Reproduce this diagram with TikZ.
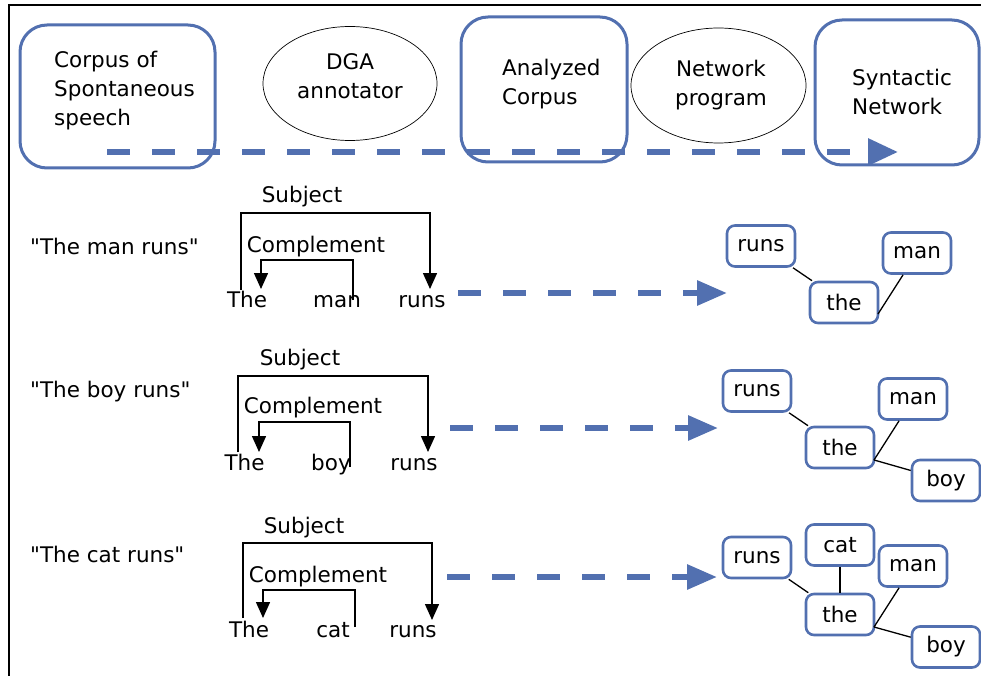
\documentclass[tikz,border=0pt]{standalone}
\usepackage{fontspec}
\setmainfont{DejaVu Sans}
\newfontfamily\dvs{DejaVu Sans}
\usetikzlibrary{arrows.meta,shapes.geometric}
\definecolor{mblue}{RGB}{82,112,176}
\begin{document}
\begin{tikzpicture}[x=1pt,y=-1pt,
  txt/.style={inner sep=0pt, font=\dvs\fontsize{21.5}{29}\selectfont},
  bigbox/.style={draw=mblue, line width=3pt, rounded corners=27pt, inner sep=0pt, fill=white},
  oval/.style={draw=black, line width=0.7pt, ellipse, inner sep=0pt},
  wbox/.style={draw=mblue, line width=2.6pt, rounded corners=8pt, minimum width=68pt, minimum height=41pt, inner sep=0pt, fill=white, font=\dvs\fontsize{21.5}{25}\selectfont},
  flow/.style={draw=mblue, line width=6pt, dash pattern=on 23pt off 22pt, -{Triangle[length=30pt,width=26pt,fill=mblue]}},
  rflow/.style={draw=mblue, line width=6pt, dash pattern=on 23pt off 22pt, -{Triangle[length=30pt,width=24pt,fill=mblue]}},
  brk/.style={line width=1.5pt, -{Triangle[length=16pt,width=14pt]}},
  link/.style={line width=1.3pt}
]
\useasboundingbox (0,0) rectangle (981,676);
\draw[line width=2pt] (9,676) -- (9,5) -- (981,5);

% top pipeline
\node[bigbox, minimum width=195pt, minimum height=143pt] (corpus) at (117.5,96.5) {};
\node[txt, align=left, anchor=west] (corpust) at (54,91) {Corpus of\\Spontaneous\\speech};
\node[oval, minimum width=174pt, minimum height=114pt] (dga) at (350,83.5) {};
\node[txt, align=center] (dgat) at (350,76) {DGA\\annotator};
\node[bigbox, minimum width=166pt, minimum height=145pt] (anal) at (544,89.5) {};
\node[txt, align=left, anchor=west] (analt) at (502,84.5) {Analyzed\\Corpus};
\node[oval, minimum width=175pt, minimum height=115pt] (netp) at (718.5,85.5) {};
\node[txt, align=center] (netpt) at (721,85) {Network\\program};
\node[bigbox, minimum width=164pt, minimum height=145pt] (synt) at (897,92.5) {};
\node[txt, align=left, anchor=west] (syntt) at (852,91.5) {Syntactic\\Network};
\coordinate (f0) at (107,152);
\coordinate (f1) at (898,152);
\draw[flow] (f0) -- (f1);

% row 1
\node[txt, anchor=base west] (q1) at (30,254) {"The man runs"};
\node[txt, anchor=base] (s1) at (302,203) {Subject};
\node[txt, anchor=base] (c1) at (316,252) {Complement};
\node[txt, anchor=base] (w1a) at (247,307) {The};
\node[txt, anchor=base] (w1b) at (337,307) {man};
\node[txt, anchor=base] (w1c) at (422,307) {runs};
\draw[brk] (241,290) -- (241,213) -- (430,213) -- (430,289);
\draw[brk] (353,300) -- (353,260) -- (261,260) -- (261,289);
\coordinate (a1s) at (458,293);
\coordinate (a1e) at (727,293);
\draw[rflow] (a1s) -- (a1e);
\node[wbox] (r1) at (761,246) {runs};
\node[wbox] (m1) at (917,253) {man};
\node[wbox] (t1) at (844,302.5) {the};
\coordinate (j1) at (878,314);
\draw[link] (r1) -- (t1);
\draw[link] (m1) -- (j1);

% row 2
\node[txt, anchor=base west] (q2) at (30,397) {"The boy runs"};
\node[txt, anchor=base] (s2) at (300,365) {Subject};
\node[txt, anchor=base] (c2) at (313,413) {Complement};
\node[txt, anchor=base] (w2a) at (244.5,470) {The};
\node[txt, anchor=base] (w2b) at (331,470) {boy};
\node[txt, anchor=base] (w2c) at (414,470) {runs};
\draw[brk] (238,452) -- (238,376) -- (428,376) -- (428,452);
\draw[brk] (350,467) -- (350,422) -- (259,422) -- (259,452);
\coordinate (a2s) at (450,428);
\coordinate (a2e) at (718,428);
\draw[rflow] (a2s) -- (a2e);
\node[wbox] (r2) at (757,391) {runs};
\node[wbox] (m2) at (913,399) {man};
\node[wbox] (t2) at (840,447.5) {the};
\node[wbox] (b2) at (946,480.5) {boy};
\coordinate (j2) at (874,460);
\draw[link] (r2) -- (t2);
\draw[link] (m2) -- (j2);
\draw[link] (b2) -- (j2);

% row 3
\node[txt, anchor=base west] (q3) at (30,562) {"The cat runs"};
\node[txt, anchor=base] (s3) at (304,533) {Subject};
\node[txt, anchor=base] (c3) at (318,582) {Complement};
\node[txt, anchor=base] (w3a) at (249,637) {The};
\node[txt, anchor=base] (w3b) at (333,637) {cat};
\node[txt, anchor=base] (w3c) at (413,637) {runs};
\draw[brk] (243,618) -- (243,543) -- (432,543) -- (432,620);
\draw[brk] (355,627) -- (355,590) -- (263,590) -- (263,618);
\coordinate (a3s) at (447,577);
\coordinate (a3e) at (717,577);
\draw[rflow] (a3s) -- (a3e);
\node[wbox] (r3) at (757,557.5) {runs};
\node[wbox] (k3) at (840,545) {cat};
\node[wbox] (m3) at (913,566) {man};
\node[wbox] (t3) at (840,614.5) {the};
\node[wbox] (b3) at (946,647) {boy};
\coordinate (j3) at (874,627);
\draw[link] (r3) -- (t3);
\draw[link] (k3) -- (t3);
\draw[link] (m3) -- (j3);
\draw[link] (b3) -- (j3);
\end{tikzpicture}
\end{document}
